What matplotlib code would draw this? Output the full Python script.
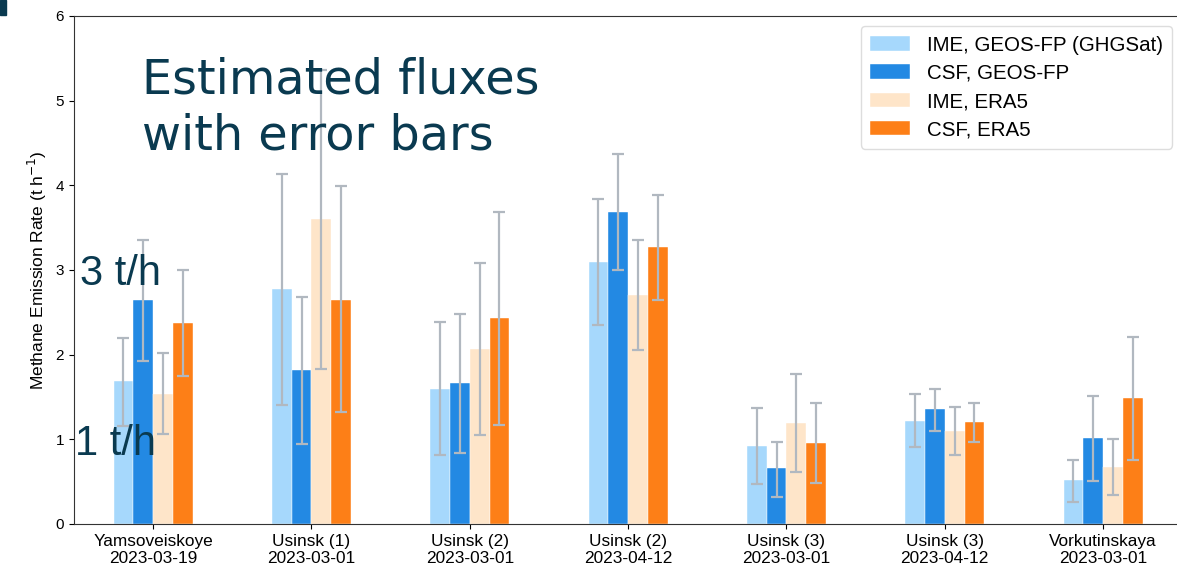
import numpy as np
import matplotlib.pyplot as plt
from matplotlib.patches import Rectangle

sites = ["Yamsoveiskoye\n2023-03-19", "Usinsk (1)\n2023-03-01", "Usinsk (2)\n2023-03-01",
         "Usinsk (2)\n2023-04-12", "Usinsk (3)\n2023-03-01", "Usinsk (3)\n2023-04-12",
         "Vorkutinskaya\n2023-03-01"]
labels = ["IME, GEOS-FP (GHGSat)", "CSF, GEOS-FP", "IME, ERA5", "CSF, ERA5"]

# rates (t/h) and error bar bounds per series
ime_geos = [1.69, 2.77, 1.60, 3.09, 0.925, 1.22, 0.52]
ime_geos_lo = [1.16, 1.41, 0.82, 2.35, 0.47, 0.91, 0.26]
ime_geos_hi = [2.20, 4.13, 2.38, 3.84, 1.37, 1.53, 0.76]

csf_geos = [2.64, 1.815, 1.66, 3.68, 0.66, 1.36, 1.02]
csf_geos_lo = [1.925, 0.94, 0.84, 3.00, 0.32, 1.095, 0.51]
csf_geos_hi = [3.35, 2.68, 2.48, 4.37, 0.965, 1.60, 1.515]

ime_era5 = [1.54, 3.60, 2.07, 2.71, 1.19, 1.10, 0.67]
ime_era5_lo = [1.06, 1.83, 1.05, 2.05, 0.61, 0.815, 0.34]
ime_era5_hi = [2.02, 5.36, 3.08, 3.36, 1.77, 1.38, 1.00]

csf_era5 = [2.37, 2.65, 2.43, 3.27, 0.957, 1.205, 1.49]
csf_era5_lo = [1.75, 1.32, 1.17, 2.65, 0.48, 0.965, 0.756]
csf_era5_hi = [3.00, 3.99, 3.68, 3.89, 1.43, 1.43, 2.21]

colors = ["#a6d8fc", "#2389e3", "#fee5c9", "#fd7f17"]
navy = "#0a3a50"

plt.rcParams["font.family"] = ["Liberation Sans", "DejaVu Sans"]

fig = plt.figure(figsize=(11.77, 5.69), dpi=100)
ax = fig.add_axes([0.0628, 0.0791, 0.9417, 0.8928])

x = np.arange(len(sites))
w = 0.125
series = [(ime_geos, ime_geos_lo, ime_geos_hi), (csf_geos, csf_geos_lo, csf_geos_hi),
          (ime_era5, ime_era5_lo, ime_era5_hi), (csf_era5, csf_era5_lo, csf_era5_hi)]
for i, (v, lo, hi) in enumerate(series):
    v = np.array(v)
    yerr = [v - np.array(lo), np.array(hi) - v]
    ax.bar(x + (i - 1.5) * w, v, w, color=colors[i], label=labels[i],
           edgecolor="white", linewidth=0.3, yerr=yerr,
           error_kw=dict(ecolor="#b1b8c0", elinewidth=1.6, capsize=4.2, capthick=1.6))

ax.set_xlim(-0.5, 6.5)
ax.set_ylim(0, 6)
ax.set_xticks(x)
ax.set_xticklabels(sites, fontsize=12.4)
ax.tick_params(axis="y", labelsize=11)
ax.set_ylabel("Methane Emission Rate (t h$^{-1}$)", fontsize=12.5, labelpad=5)
ax.spines["right"].set_visible(False)
for s in ["left", "bottom", "top"]:
    ax.spines[s].set_color("#333333")

ax.legend(loc="upper right", fontsize=14.8, handlelength=1.95, handleheight=0.7,
          labelspacing=0.45, borderpad=0.45, framealpha=1, edgecolor="#dddddd")

# slide overlay text
fig.text(142 / 1177, 1 - 93 / 569, "Estimated fluxes", family="DejaVu Sans",
         fontsize=34.4, color=navy, va="baseline", ha="left")
fig.text(142 / 1177, 1 - 150 / 569, "with error bars", family="DejaVu Sans",
         fontsize=34.4, color=navy, va="baseline", ha="left")
fig.text(80 / 1177, 1 - 285 / 569, "3 t/h", fontsize=30,
         color=navy, va="baseline", ha="left")
fig.text(75 / 1177, 1 - 455 / 569, "1 t/h", fontsize=30,
         color=navy, va="baseline", ha="left")
fig.patches.append(Rectangle((0, 1 - 15 / 569), 6 / 1177, 15 / 569,
                             transform=fig.transFigure, color=navy, zorder=5))

fig.savefig("out.png", dpi=100)
